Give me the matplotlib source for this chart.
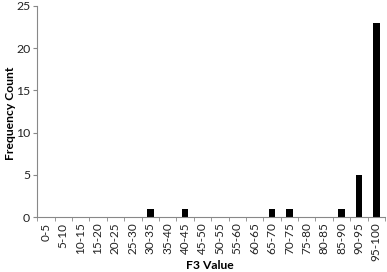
"""Histogram of F3 values"""
import matplotlib.pyplot as plt
import numpy as np

bins = ["0-5", "5-10", "10-15", "15-20", "20-25", "25-30", "30-35", "35-40",
        "40-45", "45-50", "50-55", "55-60", "60-65", "65-70", "70-75", "75-80",
        "80-85", "85-90", "90-95", "95-100"]
counts = [0, 0, 0, 0, 0, 0, 1, 0, 1, 0, 0, 0, 0, 1, 1, 0, 0, 1, 5, 23]


def main():
    """draw the chart"""
    plt.rcParams["font.family"] = ["Lato", "DejaVu Sans"]
    fig = plt.figure(figsize=(3.87, 2.72), dpi=100)
    ax = fig.add_axes([0.096, 0.202, 0.899, 0.776])
    x = np.arange(len(bins))
    ax.bar(x, counts, width=0.38, color="black")
    ax.set_xlim(-0.5, len(bins) - 0.5)
    ax.set_ylim(0, 25)
    ax.set_yticks(range(0, 26, 5))
    ax.set_xticks(x)
    ax.set_xticklabels(bins, rotation=90, fontsize=8.5, color="#222222")
    ax.set_xticks(np.arange(-0.5, len(bins)), minor=True)
    ax.tick_params(axis="x", which="major", length=0, pad=4)
    ax.tick_params(axis="x", which="minor", length=3, color="#888888")
    ax.tick_params(axis="y", length=3, color="#888888", labelsize=8.8,
                   labelcolor="#222222", pad=2)
    for side in ["top", "right"]:
        ax.spines[side].set_visible(False)
    for side in ["left", "bottom"]:
        ax.spines[side].set_color("#888888")
        ax.spines[side].set_linewidth(0.8)
    ax.set_ylabel("Frequency Count", fontsize=8.7, fontweight="bold")
    ax.yaxis.set_label_coords(-0.062, 0.49)
    ax.set_xlabel("F3 Value", fontsize=8.7, fontweight="bold")
    ax.xaxis.set_label_coords(0.497, -0.205)
    fig.savefig("out.png", dpi=100)


if __name__ == "__main__":
    main()
